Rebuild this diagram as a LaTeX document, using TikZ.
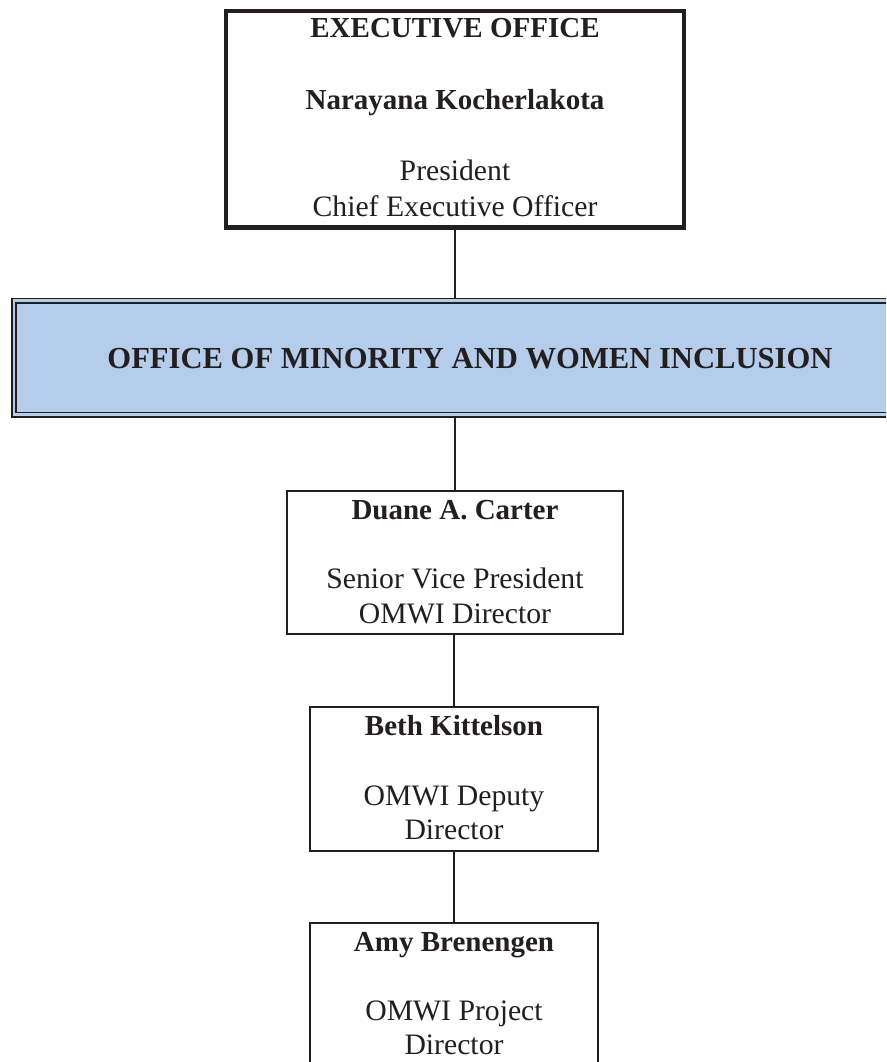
\documentclass[tikz,border=0pt]{standalone}
\usepackage{fontspec}
\setmainfont{Liberation Serif}
\usetikzlibrary{backgrounds}
\definecolor{bandblue}{RGB}{181,204,234}
\definecolor{ink}{RGB}{35,31,32}
\begin{document}
\begin{tikzpicture}[x=1pt,y=-1pt,
  every node/.style={inner sep=0pt, outer sep=0pt},
  txt/.style={anchor=base, text=ink, font=\fontsize{29.7}{33}\selectfont},
  boldtxt/.style={anchor=base, text=ink, font=\fontsize{29}{33}\selectfont\bfseries},
  bandtxt/.style={anchor=base, text=ink, font=\fontsize{30.6}{34}\selectfont\bfseries},
  orgbox/.style={draw=ink, line width=2.6pt, fill=white},
  topbox/.style={orgbox, line width=4.5pt},
  bandbox/.style={draw=ink, line width=1.7pt, double=bandblue, double distance=2.8pt, fill=bandblue},
  link/.style={draw=ink, line width=1.5pt}]
\useasboundingbox (0,0) rectangle (886,1062);
\clip (0,0) rectangle (886,1062);

% boxes
\node[topbox, minimum width=458pt, minimum height=216.7pt] (exec) at (455,119.15) {};
\node[bandbox, minimum width=921pt, minimum height=114pt] (omwi) at (474.4,357.85) {};
\node[orgbox, minimum width=336pt, minimum height=143pt] (carter) at (455,562.5) {};
\node[orgbox, minimum width=288pt, minimum height=144pt] (kitt) at (454,779) {};
\node[orgbox, minimum width=288pt, minimum height=144pt] (bren) at (454,995) {};

% texts
\node[boldtxt] (e1) at (455,37.3) {EXECUTIVE OFFICE};
\node[boldtxt] (e2) at (455,110) {Narayana Kocherlakota};
\node[txt] (e3) at (455,180) {President};
\node[txt] (e4) at (455,216) {Chief Executive Officer};

\node[bandtxt] (o1) at (470,368) {OFFICE OF MINORITY AND WOMEN INCLUSION};

\node[boldtxt] (c1) at (455,519) {Duane A. Carter};
\node[txt] (c2) at (455,588) {Senior Vice President};
\node[txt] (c3) at (455,623) {OMWI Director};

\node[boldtxt] (k1) at (454,735) {Beth Kittelson};
\node[txt] (k2) at (454,805) {OMWI Deputy};
\node[txt] (k3) at (454,839) {Director};

\node[boldtxt] (b1) at (454,951) {Amy Brenengen};
\node[txt] (b2) at (454,1020) {OMWI Project};
\node[txt] (b3) at (454,1054) {Director};

% connectors
\begin{scope}[on background layer]
\draw[link] (exec.south) -- (exec.south |- omwi.north);
\draw[link] (exec.south |- omwi.south) -- (carter.north);
\draw[link] (kitt.north |- carter.south) -- (kitt.north);
\draw[link] (kitt.south) -- (bren.north);
\end{scope}
\end{tikzpicture}
\end{document}
